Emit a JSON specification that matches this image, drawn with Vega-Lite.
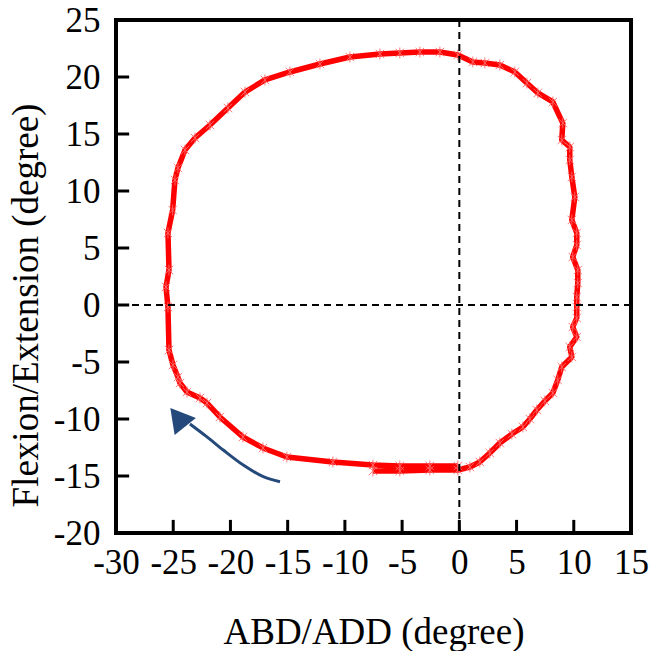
{
  "$schema": "https://vega.github.io/schema/vega-lite/v6.json",
  "width": 515,
  "height": 513,
  "autosize": {"type": "none"},
  "padding": {"left": 116, "top": 20, "right": 20, "bottom": 118},
  "background": "white",
  "config": {
    "view": {"stroke": "black", "strokeWidth": 4},
    "axis": {
      "labelFont": "Liberation Serif",
      "titleFont": "Liberation Serif",
      "labelColor": "black",
      "titleColor": "black",
      "titleFontWeight": "normal",
      "domain": false,
      "grid": false,
      "ticks": false,
      "labelFontSize": 35,
      "titleFontSize": 37,
      "labelFlush": false,
      "labelOverlap": false
    }
  },
  "datasets": {
    "loop": [
      {"i": 1, "x": -7.55, "y": -14.56},
      {"i": 2, "x": -5.2, "y": -14.56},
      {"i": 3, "x": -2.58, "y": -14.47},
      {"i": 4, "x": -0.13, "y": -14.47},
      {"i": 5, "x": 0.92, "y": -14.21},
      {"i": 6, "x": 1.79, "y": -13.77},
      {"i": 7, "x": 2.66, "y": -12.98},
      {"i": 8, "x": 3.54, "y": -12.11},
      {"i": 9, "x": 4.59, "y": -11.32},
      {"i": 10, "x": 5.55, "y": -10.7},
      {"i": 11, "x": 6.16, "y": -10.0},
      {"i": 12, "x": 6.77, "y": -9.21},
      {"i": 13, "x": 7.47, "y": -8.42},
      {"i": 14, "x": 8.17, "y": -7.72},
      {"i": 15, "x": 8.6, "y": -6.58},
      {"i": 16, "x": 8.95, "y": -5.44},
      {"i": 17, "x": 9.83, "y": -4.56},
      {"i": 18, "x": 9.65, "y": -3.68},
      {"i": 19, "x": 10.26, "y": -2.81},
      {"i": 20, "x": 9.91, "y": -1.93},
      {"i": 21, "x": 10.26, "y": -1.14},
      {"i": 22, "x": 10.26, "y": -0.18},
      {"i": 23, "x": 10.26, "y": 0.7},
      {"i": 24, "x": 10.35, "y": 1.93},
      {"i": 25, "x": 10.35, "y": 3.07},
      {"i": 26, "x": 9.91, "y": 4.21},
      {"i": 27, "x": 10.26, "y": 5.26},
      {"i": 28, "x": 10.26, "y": 6.32},
      {"i": 29, "x": 9.83, "y": 7.46},
      {"i": 30, "x": 10.09, "y": 9.47},
      {"i": 31, "x": 9.83, "y": 11.23},
      {"i": 32, "x": 9.65, "y": 12.72},
      {"i": 33, "x": 9.65, "y": 13.86},
      {"i": 34, "x": 8.95, "y": 14.47},
      {"i": 35, "x": 9.04, "y": 15.96},
      {"i": 36, "x": 8.17, "y": 17.81},
      {"i": 37, "x": 6.86, "y": 18.6},
      {"i": 38, "x": 5.9, "y": 19.47},
      {"i": 39, "x": 4.85, "y": 20.44},
      {"i": 40, "x": 3.54, "y": 21.05},
      {"i": 41, "x": 2.23, "y": 21.23},
      {"i": 42, "x": 1.18, "y": 21.32},
      {"i": 43, "x": -0.13, "y": 21.93},
      {"i": 44, "x": -1.7, "y": 22.19},
      {"i": 45, "x": -3.45, "y": 22.19},
      {"i": 46, "x": -5.2, "y": 22.11},
      {"i": 47, "x": -6.94, "y": 22.02},
      {"i": 48, "x": -9.56, "y": 21.75},
      {"i": 49, "x": -12.18, "y": 21.14},
      {"i": 50, "x": -14.8, "y": 20.44},
      {"i": 51, "x": -16.99, "y": 19.74},
      {"i": 52, "x": -18.73, "y": 18.68},
      {"i": 53, "x": -20.22, "y": 17.28},
      {"i": 54, "x": -21.79, "y": 15.79},
      {"i": 55, "x": -23.1, "y": 14.65},
      {"i": 56, "x": -23.97, "y": 13.6},
      {"i": 57, "x": -24.59, "y": 12.02},
      {"i": 58, "x": -24.85, "y": 10.96},
      {"i": 59, "x": -25.05, "y": 8.33},
      {"i": 60, "x": -25.46, "y": 6.32},
      {"i": 61, "x": -25.37, "y": 3.07},
      {"i": 62, "x": -25.63, "y": 1.58},
      {"i": 63, "x": -25.46, "y": -0.18},
      {"i": 64, "x": -25.37, "y": -3.95},
      {"i": 65, "x": -25.02, "y": -5.26},
      {"i": 66, "x": -24.59, "y": -6.32},
      {"i": 67, "x": -24.41, "y": -6.84},
      {"i": 68, "x": -23.8, "y": -7.63},
      {"i": 69, "x": -22.66, "y": -8.16},
      {"i": 70, "x": -22.05, "y": -8.6},
      {"i": 71, "x": -20.92, "y": -9.82},
      {"i": 72, "x": -18.91, "y": -11.58},
      {"i": 73, "x": -17.16, "y": -12.54},
      {"i": 74, "x": -15.07, "y": -13.33},
      {"i": 75, "x": -11.05, "y": -13.77},
      {"i": 76, "x": -7.55, "y": -14.04},
      {"i": 77, "x": -5.2, "y": -14.12},
      {"i": 78, "x": -2.58, "y": -14.12},
      {"i": 79, "x": -0.13, "y": -14.12}
    ],
    "arrow": [
      {"i": 1, "x": -15.67, "y": -15.5},
      {"i": 2, "x": -17.13, "y": -15.06},
      {"i": 3, "x": -18.88, "y": -14.04},
      {"i": 4, "x": -20.63, "y": -12.72},
      {"i": 5, "x": -22.08, "y": -11.55},
      {"i": 6, "x": -23.54, "y": -10.44}
    ],
    "head": [{"x": -24.6, "y": -9.85}],
    "xticks": [{"v": -25}, {"v": -20}, {"v": -15}, {"v": -10}, {"v": -5}, {"v": 0}, {"v": 5}, {"v": 10}],
    "yticks": [{"v": -15}, {"v": -10}, {"v": -5}, {"v": 0}, {"v": 5}, {"v": 10}, {"v": 15}, {"v": 20}],
    "zx": [{"x": 0}],
    "zy": [{"y": 0}]
  },
  "layer": [
    {
      "data": {"name": "loop"},
      "mark": {"type": "line", "color": "#ff0000", "strokeWidth": 5.5, "strokeJoin": "round"},
      "encoding": {
        "x": {
          "field": "x", "type": "quantitative",
          "scale": {"domain": [-30, 15], "nice": false, "zero": false},
          "axis": {
            "values": [-30, -25, -20, -15, -10, -5, 0, 5, 10, 15],
            "labelExpr": "'' + datum.value",
            "labelPadding": 12,
            "title": "ABD/ADD (degree)",
            "titleX": 257.5, "titleY": 110, "titleBaseline": "alphabetic", "titleAlign": "center"
          }
        },
        "y": {
          "field": "y", "type": "quantitative",
          "scale": {"domain": [-20, 25], "nice": false, "zero": false},
          "axis": {
            "values": [-20, -15, -10, -5, 0, 5, 10, 15, 20, 25],
            "labelExpr": "'' + datum.value",
            "labelPadding": 16,
            "title": "Flexion/Extension (degree)",
            "titleX": -79, "titleY": 285, "titleAngle": -90, "titleBaseline": "alphabetic", "titleAlign": "center"
          }
        },
        "order": {"field": "i", "type": "quantitative"}
      }
    },
    {
      "data": {"name": "loop"},
      "mark": {"type": "point", "shape": "M-1,-1L1,1M1,-1L-1,1M0,-1.3L0,1.3", "filled": false, "color": "#ff6a6a", "strokeWidth": 1, "size": 70, "opacity": 0.9},
      "encoding": {
        "x": {"field": "x", "type": "quantitative"},
        "y": {"field": "y", "type": "quantitative"}
      }
    },
    {
      "data": {"name": "zx"},
      "mark": {"type": "rule", "color": "black", "strokeWidth": 2, "strokeDash": [7, 5]},
      "encoding": {"x": {"field": "x", "type": "quantitative"}}
    },
    {
      "data": {"name": "zy"},
      "mark": {"type": "rule", "color": "black", "strokeWidth": 2, "strokeDash": [7, 5]},
      "encoding": {"y": {"field": "y", "type": "quantitative"}}
    },
    {
      "data": {"name": "xticks"},
      "mark": {"type": "rule", "color": "black", "strokeWidth": 3},
      "encoding": {
        "x": {"field": "v", "type": "quantitative"},
        "y": {"datum": -20, "type": "quantitative"},
        "y2": {"datum": -18.85}
      }
    },
    {
      "data": {"name": "yticks"},
      "mark": {"type": "rule", "color": "black", "strokeWidth": 3},
      "encoding": {
        "y": {"field": "v", "type": "quantitative"},
        "x": {"datum": -30, "type": "quantitative"},
        "x2": {"datum": -28.85}
      }
    },
    {
      "data": {"name": "arrow"},
      "mark": {"type": "line", "color": "#24497a", "strokeWidth": 3, "interpolate": "monotone"},
      "encoding": {
        "x": {"field": "x", "type": "quantitative"},
        "y": {"field": "y", "type": "quantitative"},
        "order": {"field": "i", "type": "quantitative"}
      }
    },
    {
      "data": {"name": "head"},
      "mark": {"type": "point", "shape": "triangle-up", "filled": true, "color": "#24497a", "opacity": 1, "size": 750, "angle": -39},
      "encoding": {
        "x": {"field": "x", "type": "quantitative"},
        "y": {"field": "y", "type": "quantitative"}
      }
    }
  ]
}
